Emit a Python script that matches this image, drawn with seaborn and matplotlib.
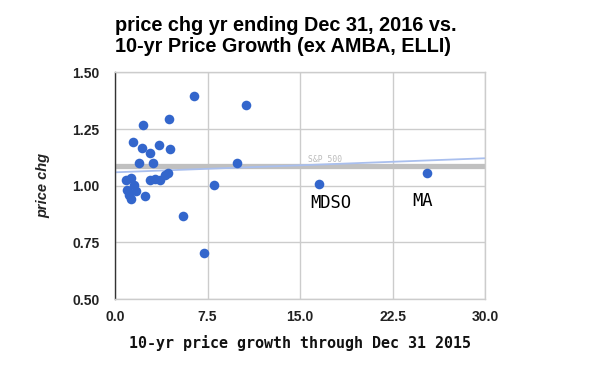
import matplotlib
matplotlib.use('Agg')
import matplotlib.pyplot as plt
import seaborn as sns
import pandas as pd

# 10-yr price growth (x) vs price change for year ending Dec 31 2016 (y)
growth = [6.38, 10.62, 4.40, 2.30, 1.49, 3.59, 2.21, 4.48, 2.84, 1.92, 3.11, 9.86,
          0.92, 1.32, 1.54, 1.00, 1.11, 1.27, 1.73, 2.41, 2.81, 3.22, 3.62, 4.03, 4.29,
          8.00, 5.54, 7.19, 16.5, 25.3]
price_chg = [1.395, 1.357, 1.294, 1.266, 1.193, 1.181, 1.166, 1.160, 1.144, 1.100, 1.100, 1.101,
             1.025, 1.032, 1.003, 0.981, 0.959, 0.940, 0.978, 0.955, 1.025, 1.028, 1.025, 1.047, 1.057,
             1.004, 0.865, 0.705, 1.007, 1.057]

# annotations placed under the two outliers
label_names = ['MDSO', 'MA']
label_x = [17.5, 24.9]
label_y = [0.922, 0.934]

# S&P 500 reference level and trendline endpoints
sp500_level = 1.085
trend_x = [0, 30]
trend_y = [1.059, 1.121]

x_ticks = [0.0, 7.5, 15.0, 22.5, 30.0]
y_ticks = [0.50, 0.75, 1.00, 1.25, 1.50]

sns.set_theme(style='whitegrid')
plt.rcParams['font.family'] = ['Liberation Sans', 'DejaVu Sans']

df = pd.DataFrame({'growth': growth, 'price_chg': price_chg})

fig = plt.figure(figsize=(6, 3.71), dpi=100)
ax = fig.add_axes([0.1917, 0.194, 0.617, 0.611])

# S&P 500 band and trendline
ax.axhline(sp500_level, color='#C0C0C0', lw=3.8, zorder=2)
sns.lineplot(x=trend_x, y=trend_y, ax=ax, color='#A9BFEE', lw=1.3, zorder=2)

sns.scatterplot(data=df, x='growth', y='price_chg', ax=ax, color='#3366CC',
                s=48, linewidth=0, zorder=3)

ax.text(15.6, sp500_level + 0.032, 'S&P 500', family='DejaVu Sans Mono', fontsize=5.8,
        color='#BBBBBB', va='center', ha='left')
for name, lx, ly in zip(label_names, label_x, label_y):
    ax.text(lx, ly, name, family='DejaVu Sans Mono', fontsize=12.3, color='#000000',
            ha='center', va='center')

ax.set_xlim(0, 30)
ax.set_ylim(0.5, 1.5)
ax.set_xticks(x_ticks)
ax.set_yticks(y_ticks)
ax.set_xticklabels([f'{v:.1f}' for v in x_ticks])
ax.set_yticklabels([f'{v:.2f}' for v in y_ticks])
ax.tick_params(axis='both', length=0, labelsize=10, labelcolor='#222222')
ax.tick_params(axis='y', pad=11)
ax.tick_params(axis='x', pad=8)
for lab in ax.get_xticklabels() + ax.get_yticklabels():
    lab.set_fontweight('bold')

ax.grid(True, color='#CCCCCC', lw=1)
for side in ['top', 'right', 'bottom']:
    ax.spines[side].set_color('#CCCCCC')
    ax.spines[side].set_linewidth(1)
ax.spines['left'].set_color('#333333')
ax.spines['left'].set_linewidth(1)

ax.set_xlabel('10-yr price growth through Dec 31 2015', family='DejaVu Sans Mono',
              fontsize=10.8, fontweight='bold', color='#111111', labelpad=8)
ax.set_ylabel('price chg', fontsize=10.5, fontweight='bold', style='italic',
              color='#222222', labelpad=16)

fig.text(115 / 600, 1 - 30.7 / 371, 'price chg yr ending Dec 31, 2016 vs.',
         fontsize=14.3, fontweight='bold', color='black', ha='left', va='baseline')
fig.text(115 / 600, 1 - 52.3 / 371, '10-yr Price Growth (ex AMBA, ELLI)',
         fontsize=14.3, fontweight='bold', color='black', ha='left', va='baseline')

fig.savefig('out.png', dpi=100)
